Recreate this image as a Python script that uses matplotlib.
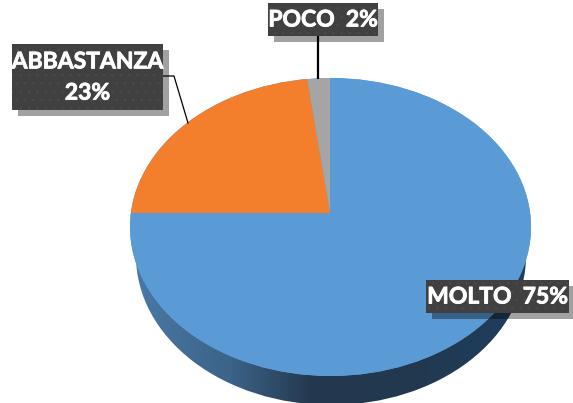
import matplotlib
matplotlib.use('Agg')
import matplotlib.pyplot as plt
import matplotlib.patheffects as pe
import numpy as np
from matplotlib.colors import LinearSegmentedColormap
from matplotlib.patches import Ellipse, Rectangle
from matplotlib.transforms import Affine2D

# Data
categories = ['MOLTO', 'ABBASTANZA', 'POCO']
values = [75, 23, 2]
colors = ['#5B9BD5', '#F37F2D', '#A5A5A5']
box_texts = ['MOLTO  75%', 'ABBASTANZA\n23%', 'POCO  2%']

plt.rcParams['font.family'] = ['Lato', 'DejaVu Sans']
plt.rcParams['hatch.linewidth'] = 0.6

fig = plt.figure(figsize=(5.73, 4.03), dpi=100)
ax = fig.add_axes([0, 0, 1, 1])

# tilt of the pie, y is squashed
tilt = 0.745

# side of the pie with a horizontal gradient
side_cmap = LinearSegmentedColormap.from_list('side', [
    (0.0, '#4a79a8'), (0.25, '#3c6388'), (0.45, '#24394f'),
    (0.7, '#22384f'), (1.0, '#1f3f60')])
side = Ellipse((331, 256), 390, 298, facecolor='none', edgecolor='none')
ax.add_patch(side)
grad = ax.imshow(np.linspace(0, 1, 256).reshape(1, -1), cmap=side_cmap,
                 extent=(130, 531, 410, 200), aspect='auto', zorder=1)
grad.set_clip_path(side)

# top of the pie
top = Ellipse((330.5, 227), 401, 298, facecolor='#5B9BD5', edgecolor='none', zorder=2)
ax.add_patch(top)
wedges, _ = ax.pie(values, colors=colors, startangle=90, counterclock=False,
                   center=(330, -213 / tilt), radius=500, frame=False)
for w in wedges:
    w.set_transform(Affine2D().scale(1, -tilt) + ax.transData)
    w.set_clip_on(True)
    w.set_clip_path(top)
    w.set_zorder(3)
    w.set_linewidth(0)

# leader lines
ax.plot([318, 318], [36, 79], color='black', lw=1.6, zorder=4, solid_capstyle='butt')
ax.plot([163, 174, 188], [76, 76, 123], color='black', lw=0.9, zorder=4)

# label boxes: x, y, w, h
boxes = [(426, 280, 143, 33), (12, 44, 151, 66), (268, 3, 110, 33)]
for (x, y, bw, bh), txt in zip(boxes, box_texts):
    ax.add_patch(Rectangle((x + 6, y + 6), bw, bh, facecolor='black', alpha=0.37,
                           edgecolor='none', zorder=5))
    ax.add_patch(Rectangle((x, y), bw, bh, facecolor='#404040', edgecolor='#4a4a4a',
                           hatch='..', linewidth=0, zorder=6))
    ax.text(x + bw / 2, y + bh / 2 + 0.5, txt, color='white', fontsize=16.5, fontweight='bold',
            ha='center', va='center', linespacing=1.6, zorder=7,
            path_effects=[pe.withStroke(linewidth=0.6, foreground='white')])

ax.set_aspect('auto')
ax.set_xlim(0, 573)
ax.set_ylim(403, 0)
ax.axis('off')

fig.savefig('out.png', dpi=100)
